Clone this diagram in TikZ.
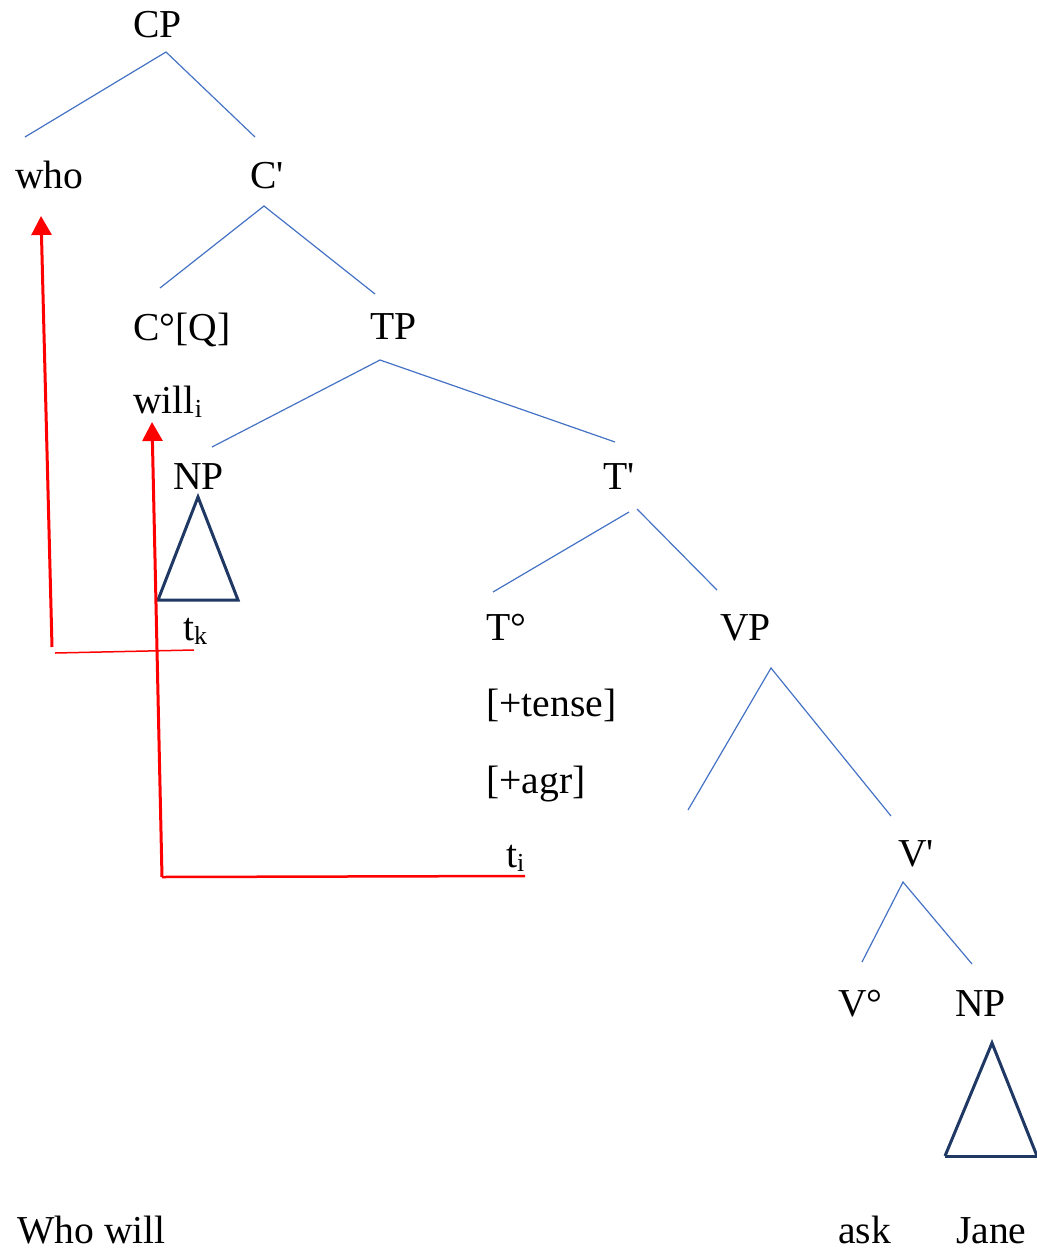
\documentclass[tikz,border=0pt]{standalone}
\usepackage{fontspec}
\setmainfont{Liberation Serif}
\usetikzlibrary{arrows.meta}
\definecolor{branch}{RGB}{68,114,196}
\definecolor{navy}{RGB}{31,56,100}
\newcommand\sbs[1]{{\fontsize{26}{26}\selectfont\raisebox{-4pt}{#1}}}
\begin{document}
\begin{tikzpicture}[x=1pt,y=-1pt,
  lbl/.style={anchor=base west, inner sep=0pt, font=\fontsize{39.6}{47}\selectfont},
  br/.style={draw=branch, line width=1.2pt},
  tri/.style={draw=navy, line width=3pt, line join=miter},
  mv/.style={draw=red, line width=3pt, -{Triangle[width=20pt,length=19pt]}},
  mvline/.style={draw=red, line width=#1},
  mvline/.default=2.5pt]
\useasboundingbox (0,0) rectangle (1036,1250);
% labels
\node[lbl] (CP) at (133,37) {CP};
\node[lbl] (who) at (15,188) {who};
\node[lbl] (Cbar) at (250,188) {C\textquotesingle};
\node[lbl] (C0) at (133,340) {C°[Q]};
\node[lbl] (TP) at (370,339) {TP};
\node[lbl] (will) at (133,413) {will\sbs{i}};
\node[lbl] (NP1) at (173,489) {NP};
\node[lbl] (Tbar) at (603,489) {T\textquotesingle};
\node[lbl] (tk) at (183,640) {t\sbs{k}};
\node[lbl] (T0) at (486,640) {T°};
\node[lbl] (VP) at (720,640) {VP};
\node[lbl] (tense) at (486,716) {[+tense]};
\node[lbl] (agr) at (486,793) {[+agr]};
\node[lbl] (ti) at (506,867) {t\sbs{i}};
\node[lbl] (Vbar) at (898,866) {V\textquotesingle};
\node[lbl] (V0) at (838,1016) {V°};
\node[lbl] (NP2) at (955,1016) {NP};
\node[lbl] (whowill) at (17,1243) {Who will};
\node[lbl] (ask) at (838,1243) {ask};
\node[lbl] (Jane) at (956,1243) {Jane};
% branch points and ends
\coordinate (cp-b) at (166,52);
\coordinate (who-t) at (25,137);
\coordinate (cbar-t) at (255,137);
\coordinate (cbar-b) at (264,206);
\coordinate (c0-t) at (160,288);
\coordinate (tp-t) at (375,294);
\coordinate (tp-b) at (380,360);
\coordinate (np1-t) at (212,447);
\coordinate (tbar-t) at (615,442);
\coordinate (tbar-bl) at (629,512);
\coordinate (tbar-br) at (637,509);
\coordinate (t0-t) at (493,592);
\coordinate (vp-t) at (717,590);
\coordinate (vp-b) at (771,668);
\coordinate (vp-l) at (688,810);
\coordinate (vbar-t) at (891,816);
\coordinate (vbar-b) at (903,882);
\coordinate (v0-t) at (862,962);
\coordinate (np2-t) at (972,964);
\draw[br] (who-t) -- (cp-b) -- (cbar-t);
\draw[br] (c0-t) -- (cbar-b) -- (tp-t);
\draw[br] (np1-t) -- (tp-b) -- (tbar-t);
\draw[br] (tbar-bl) -- (t0-t);
\draw[br] (tbar-br) -- (vp-t);
\draw[br] (vp-l) -- (vp-b) -- (vbar-t);
\draw[br] (v0-t) -- (vbar-b) -- (np2-t);
% triangles
\coordinate (np1-a) at (198,497);
\coordinate (np1-l) at (158,600);
\coordinate (np1-r) at (238,600);
\draw[tri] (np1-a) -- (np1-l) -- (np1-r) -- cycle;
\coordinate (np2-a) at (992,1043);
\coordinate (np2-l) at (945,1156);
\coordinate (np2-r) at (1037,1156);
\draw[tri] (np2-l) -- (np2-a) -- (np2-r);
\draw[tri] (np2-l) -- (np2-r);
% movement arrows
\coordinate (mk-foot) at (52,647);
\coordinate (mk-tip) at (41,216);
\coordinate (mk-h1) at (55,653);
\coordinate (mk-h2) at (194,650);
\draw[mv] (mk-foot) -- (mk-tip);
\draw[mvline=1.5pt] (mk-h1) -- (mk-h2);
\coordinate (mi-foot) at (162,877);
\coordinate (mi-tip) at (152,422);
\coordinate (mi-end) at (525,876);
\draw[mv] (mi-foot) -- (mi-tip);
\draw[mvline] (mi-foot) -- (mi-end);
\end{tikzpicture}
\end{document}
